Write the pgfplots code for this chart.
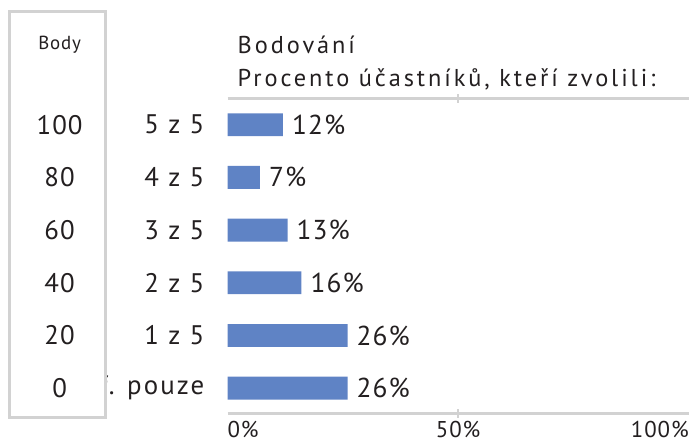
\documentclass[border=0pt]{standalone}
\usepackage{fontspec}
\setmainfont[LetterSpace=4]{PT Sans}
\usepackage{pgfplots}
\pgfplotsset{compat=1.18}
\definecolor{barblue}{HTML}{5F83C5}
\definecolor{linegray}{HTML}{D2D2D2}
\definecolor{txt}{HTML}{231F20}
\begin{document}
\begin{tikzpicture}
\draw[white, line width=0pt] (0pt,0pt) rectangle (693pt,446pt);
\begin{axis}[
  at={(229pt,30pt)}, anchor=south west,
  scale only axis, width=464pt, height=316.5pt,
  xmin=0, xmax=100, ymin=-0.48, ymax=5.49,
  xbar, bar width=23pt,
  /pgf/number format/assume math mode=true,
  separate axis lines,
  x axis line style={draw=linegray, line width=3pt},
  y axis line style={draw=none},
  xtick={0,50,100},
  xticklabels={\makebox[0pt][l]{0\%},50\%,\makebox[0pt][r]{100\%}},
  xticklabel pos=bottom,
  major x tick style={draw=none},
  extra x ticks={50},
  extra x tick labels={},
  extra x tick style={major tick length=9pt, tick align=center, major x tick style={draw=linegray, line width=2pt}},
  xticklabel style={font=\fontsize{23}{28}\selectfont, text=txt, inner sep=0pt, yshift=-7.5pt, anchor=north},
  ytick={0,1,2,3,4,5},
  yticklabels={f. pouze, 1 z 5, 2 z 5, 3 z 5, 4 z 5, 5 z 5},
  major y tick style={draw=none},
  yticklabel style={font=\fontsize{27}{32}\selectfont\addfontfeature{LetterSpace=8}, text=txt, inner sep=0pt, anchor=east, xshift=-19pt},
  nodes near coords={\pgfmathprintnumber{\pgfplotspointmeta}\%},
  every node near coord/.append style={font=\fontsize{27.5}{32}\selectfont, text=txt, anchor=west, inner sep=0pt, xshift=9pt},
  clip=false,
]
\addplot[fill=barblue, draw=none] coordinates {(26,0) (26,1) (16,2) (13,3) (7,4) (12,5)};
\end{axis}
\node[anchor=base west, inner sep=0pt, text=txt, font=\fontsize{24.5}{28}\selectfont\addfontfeature{LetterSpace=12}] at (239pt,392pt) {Bodování};
\node[anchor=base west, inner sep=0pt, text=txt, font=\fontsize{24.5}{28}\selectfont\addfontfeature{LetterSpace=12}] at (239pt,359pt) {Procento účastníků, kteří zvolili:};
\draw[linegray, line width=3pt, fill=white] (10pt,26pt) rectangle (106pt,434pt);
\node[text=txt, inner sep=0pt, font=\fontsize{19}{22}\selectfont] at (60pt,401pt) {Body};
\begin{axis}[
  at={(10pt,30pt)}, anchor=south west,
  scale only axis, width=96pt, height=316.5pt,
  xmin=0, xmax=1, ymin=-0.48, ymax=5.49,
  axis line style={draw=none},
  xtick=\empty,
  ytick={0,1,2,3,4,5},
  yticklabels={0,20,40,60,80,100},
  major tick length=0pt,
  yticklabel style={font=\fontsize{27}{32}\selectfont, text=txt, inner sep=0pt, anchor=center, xshift=50pt},
]
\addplot[draw=none, mark=none] coordinates {(0,0) (0,5)};
\end{axis}
\end{tikzpicture}
\end{document}
